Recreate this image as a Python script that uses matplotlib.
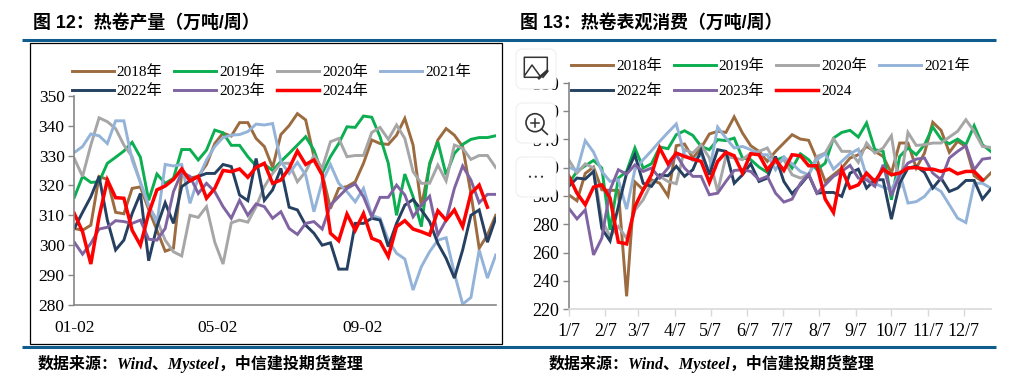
import matplotlib
matplotlib.use("Agg")
import matplotlib.pyplot as plt
from matplotlib.patches import FancyBboxPatch, Rectangle, Circle

plt.rcParams['font.family'] = ['Liberation Serif', 'Noto Sans CJK SC']

W, H = 1036, 387

# left chart, weekly output
l_2018 = [305.6,305,306.7,323,322,311,310.5,319,319.5,312,305,298,299,324,322.5,323,327,334,337.5,336.5,341,341,335.7,333,326,337,340,344,341.9,329.6,324,312.3,319,319.6,321.2,327.4,335.2,334,333.7,336.8,342.4,333.5,312.9,326.8,335.2,339,336.8,333,317.3,299,303.4,310]
l_2019 = [316,323,321,321.2,327.4,329.4,331.5,334.4,329.4,315,323.8,320.7,322.4,332,332,328.5,331.8,338.5,337.6,333.4,333.4,329.6,326.5,327,325,328,330.7,333.5,336.3,331.8,324,329.6,334,339.6,339.4,343.2,342.8,336.3,327.4,310,323.8,316.2,306.2,327.4,334.6,323.5,330.7,333.7,335.4,336,336,336.6]
l_2020 = [329,323,333.5,342.6,341.3,339,333.5,329.6,321,313,308.4,301.7,297.8,296.4,310,309.3,312.9,301,293.7,307.5,308.4,307.7,312.9,319.6,324,327.4,327.4,321.2,324.6,330,325.7,334.6,335.7,329.6,330,330,337.7,339.4,335.4,340.2,335.7,324.6,320.7,320.7,326.8,321.5,333.5,332.4,328.7,330,330,326]
l_2021 = [331,333,337.2,336.6,334,341.6,341.6,328.5,321,313.4,307.3,327,326.5,327,314,322.4,328.5,333,336,336.8,337,338,340.5,340.2,340.7,328,324,327.7,323.5,311.2,321.2,327,320.7,317.9,314.5,319,310,309,301.7,297.3,295.4,285,292.8,297.8,301.7,302.5,290.6,280.3,282.5,298.4,289,296.7]
l_2022 = [305.6,311,316.2,323,308.4,298.4,301.7,310.6,317.3,294.8,306.2,314.2,307.3,319.6,321.5,323,324,324,327,326.3,316.8,314.9,329,315,318.5,325.7,312.7,311.8,306.7,304,300,300.8,292,292,307.3,307.3,309,308.4,299.5,307.3,313.4,315.3,311.8,307.9,300.6,295.6,289,298.4,310,311.8,301,309]
l_2023 = [301,297,300.6,305.4,306,308.2,307.9,307.3,308.4,302,301.7,305.6,317.9,324.4,323,317.3,320.7,317.9,312.9,309,315,310,313.8,312.9,309,311.2,305.6,303.6,307.3,307.9,305.4,313.4,316.2,319,320.5,316.2,309.5,316,316,320.1,316.8,309.5,313.4,316.4,303.4,308.4,319,326.5,321.8,314.2,317,317]
l_2024 = [310.6,304.5,293.7,309.5,321.8,315.9,315.7,305,300,310.6,318.5,319.8,322,325.5,321.5,323,315.7,319,325,324.6,325.5,322.7,326,327.4,320.7,321.8,325.7,331.5,327,328.5,323.5,304,301.5,310.4,305,310.6,302.3,301.2,296.2,306.2,308.2,305.4,304.5,303.4,311.5,308.4,311.8,306.2,317.3,320.1,312.7]
l_ticks = [0, 121, 244]
l_ticklabels = ['01-02', '05-02', '09-02']
l_yticks = [280, 290, 300, 310, 320, 330, 340, 350]

# right chart, weekly apparent consumption
r_2018 = [300.9,296.6,316,320.5,304.4,304,304,229,310,304.4,311.5,309,300,335.6,336.8,326.9,334,343.9,345.8,345,356,344.6,335.6,331.6,324.5,331.6,337.5,343.4,340.3,339.4,325.7,310.3,315,319.8,326.9,329.2,335.1,331.6,328,316.2,337.5,337.5,319.8,330.4,352.2,346.5,330.9,338.7,335.1,314.3,310.3,316.2]
r_2019 = [309,317.4,321.4,325.2,319.8,276,312.7,317.4,334,319.8,322.8,334.7,333.5,343.4,346.2,342.9,335.1,332.8,339.9,339.2,341,326.9,325.7,320.5,316.7,325.2,327.6,319.8,329.9,325.7,318.6,323.3,341,345,346.5,341.7,351.7,332.8,331.6,297.3,328,334,329.2,336.3,348.8,340.3,337,340.3,336.3,349.8,336.3,331.6]
r_2020 = [325.7,316.2,322.8,319.8,283,271.3,278.4,270,290,297.3,309,313.9,310.3,308.7,332.8,330.4,336.3,326.9,303.2,328,326.9,325.7,330.4,331.6,334,323.3,325.7,315,312.7,315,328,330.4,340.6,331.6,331.6,323.8,337.5,330.4,334,342.7,305.6,345,335.8,336.3,337.5,337.5,341.7,345.8,354,345.8,335.1,334.4]
r_2021 = [320.5,317.9,339.2,331.1,317.4,310.3,311.5,290.7,318.6,325.7,332,338.7,345,351,329.2,325.2,329.2,317.4,348.8,341,334,335.1,332.8,329.2,329.2,318.6,327.6,322.8,317.4,315,325.7,329.9,319,324.5,329.9,333.2,313.9,308.7,306.3,304.4,316.2,295,296,299.7,306.8,303.2,293.8,284.3,281.2,309,309,305.6]
r_2022 = [306.8,312.7,312,317.4,277,268.2,292.6,316.2,329.2,309,306.8,315,314.3,321,313.9,318.6,332.3,315,332.8,331.6,309,315,322.8,310.3,312.7,328,310.3,301.6,307.9,315,302,302.5,302.5,299.7,316.2,319,305.6,311.5,311.5,283.6,309,319.8,321,316.7,305.6,312.7,303.2,305.6,311,311,297.8,304.9]
r_2023 = [291.4,283.8,290.2,258.3,270.1,304.4,318.6,315.5,322,317.4,319.8,312.7,319.8,329.2,319.8,313.9,313.9,300.9,302,310.3,318.1,318.6,317.4,311.5,313.9,302,295.7,297.8,309,315.5,302,307.9,313.9,317.4,321.7,312.7,311.5,306.8,322.1,300.1,315,323.3,326.1,326.9,316.2,311.5,326.9,331.6,335.6,318.6,326.1,326.9]
r_2024 = [314.3,302,293.8,306.3,307.9,298.5,267.3,266.1,292.6,304.4,315,334,322.8,330.4,328,326.1,324.5,309.6,324.5,330.9,328.5,316.2,329.9,329.2,318.6,325.7,318.1,329.2,328.5,321.4,321.4,297.8,288.3,319,305.6,307.9,316.2,310.3,319,315,316.2,319.8,320.2,319,319,317.4,319,315.7,317.4,317.4,311.5]
r_ticks = [0, 31, 59, 90, 120, 151, 181, 212, 243, 273, 304, 334]
r_ticklabels = ['1/7', '2/7', '3/7', '4/7', '5/7', '6/7', '7/7', '8/7', '9/7', '10/7', '11/7', '12/7']
r_yticks = [220, 240, 260, 280, 300, 320, 340, 360, 380]

colors = ['#9C6B3F', '#0BAE50', '#A6A6A6', '#94B3D9', '#254061', '#8064A2', '#FF0000']
names_l = ['2018年', '2019年', '2020年', '2021年', '2022年', '2023年', '2024年']
names_r = ['2018年', '2019年', '2020年', '2021年', '2022年', '2023年', '2024']


def axes_px(fig, left, top, right, bottom):
    return fig.add_axes([left / W, 1 - bottom / H, (right - left) / W, (bottom - top) / H])


def draw_lines(ax, series, names):
    lines = []
    for vals, c, name in zip(series, colors, names):
        lw = 2.5 if c == '#FF0000' else 2.1
        xs = [i * 7 for i in range(len(vals))]
        ln, = ax.plot(xs, vals, color=c, lw=lw, label=name, solid_joinstyle='miter')
        lines.append(ln)
    return lines


def add_legend(ax, lines, x, y, rowgap):
    # order runs down the columns, so swap to get 4 on top and 3 below
    order = [0, 4, 1, 5, 2, 6, 3]
    h = [lines[i] for i in order]
    leg = ax.legend(h, [ln.get_label() for ln in h], ncol=4, frameon=False, fontsize=11,
                    loc='upper left', bbox_to_anchor=(x / W, 1 - y / H),
                    bbox_transform=ax.figure.transFigure, borderpad=0, borderaxespad=0,
                    handlelength=2.75, handletextpad=0.2, columnspacing=0.78, labelspacing=rowgap)
    leg.set_zorder(5)


fig = plt.figure(figsize=(W / 100, H / 100), dpi=100)

# left
ax1 = axes_px(fig, 74.3, 95.7, 495.7, 305)
lines1 = draw_lines(ax1, [l_2018, l_2019, l_2020, l_2021, l_2022, l_2023, l_2024], names_l)
ax1.set_xlim(0, 357)
ax1.set_ylim(280, 350)
ax1.set_yticks(l_yticks)
ax1.set_xticks(l_ticks)
ax1.set_xticklabels(l_ticklabels)
ax1.tick_params(axis='y', labelsize=12.5, length=4, width=1, color='#868686', pad=3)
ax1.tick_params(axis='x', labelsize=12.5, length=0, pad=11)
add_legend(ax1, lines1, 71.7, 65, 0.365)

# right
ax2 = axes_px(fig, 568.7, 83, 990.7, 309)
lines2 = draw_lines(ax2, [r_2018, r_2019, r_2020, r_2021, r_2022, r_2023, r_2024], names_r)
ax2.set_xlim(0, 357)
ax2.set_ylim(220, 380)
ax2.set_yticks(r_yticks)
ax2.set_xticks(r_ticks)
ax2.set_xticklabels(r_ticklabels)
ax2.tick_params(axis='y', labelsize=13, length=4, width=1, color='#868686', pad=3)
ax2.tick_params(axis='x', labelsize=13, length=5, width=1, color='#D9D9D9', pad=5)
add_legend(ax2, lines2, 571, 59, 0.75)

for ax in (ax1, ax2):
    ax.spines['top'].set_visible(False)
    ax.spines['right'].set_visible(False)
    ax.spines['left'].set_color('#868686')
    ax.spines['bottom'].set_color('#868686')
    ax.spines['left'].set_linewidth(1.2)
    ax.spines['bottom'].set_linewidth(1.2)
    ax.patch.set_alpha(0)
ax2.spines['bottom'].set_color('#D9D9D9')

# page furniture, drawn in pixel coordinates
page = fig.add_axes([0, 0, 1, 1], zorder=10)
page.set_xlim(0, W)
page.set_ylim(H, 0)
page.axis('off')
page.patch.set_alpha(0)

page.add_patch(Rectangle((29.5, 42.7), 472, 301.5, fill=False, ec='black', lw=0.9))
page.plot([21.5, 996], [39.7, 39.7], color='#0F5C8F', lw=2.2, solid_capstyle='butt')
page.plot([21.5, 996], [346.8, 346.8], color='#0F5C8F', lw=2.2, solid_capstyle='butt')

title_font = ['Liberation Sans', 'Noto Sans CJK SC']
page.text(33, 23, '图 12：热卷产量（万吨/周）', family=title_font, weight='bold', fontsize=12.9, va='center')
page.text(520, 23, '图 13：热卷表观消费（万吨/周）', family=title_font, weight='bold', fontsize=12.9, va='center')
page.text(38, 364, '数据来源：Wind、Mysteel，中信建投期货整理', style='italic', weight='bold', fontsize=11.5, va='center')
page.text(549, 364, '数据来源：Wind、Mysteel，中信建投期货整理', style='italic', weight='bold', fontsize=11.5, va='center')

# the floating viewer buttons over the right chart
for top in (49, 103, 157):
    page.add_patch(FancyBboxPatch((518, top + 2), 36, 36, boxstyle='round,pad=2,rounding_size=7',
                                  fc='white', ec='#EFEFEF', lw=0.8))
ic = '#333333'
page.plot([543, 547.3, 547.3, 524.3, 524.3, 540], [77.3, 72, 57.3, 57.3, 77.3, 77.3], color=ic, lw=1.1)
page.plot([525, 532, 540], [75, 65, 76], color=ic, lw=1.1)
page.plot([539, 547], [78, 71], color=ic, lw=2)
page.add_patch(Circle((535, 122.7), 9, fill=False, ec=ic, lw=1.2))
page.plot([541.5, 547.3], [129, 134.3], color=ic, lw=1.2)
page.plot([531, 539], [122.7, 122.7], color=ic, lw=1.1)
page.plot([535, 535], [118.7, 126.7], color=ic, lw=1.1)
for dot_x in (530, 535.8, 542):
    page.add_patch(Circle((dot_x, 176.7), 1.1, fc=ic, ec='none'))

fig.savefig('out.png', dpi=100)
